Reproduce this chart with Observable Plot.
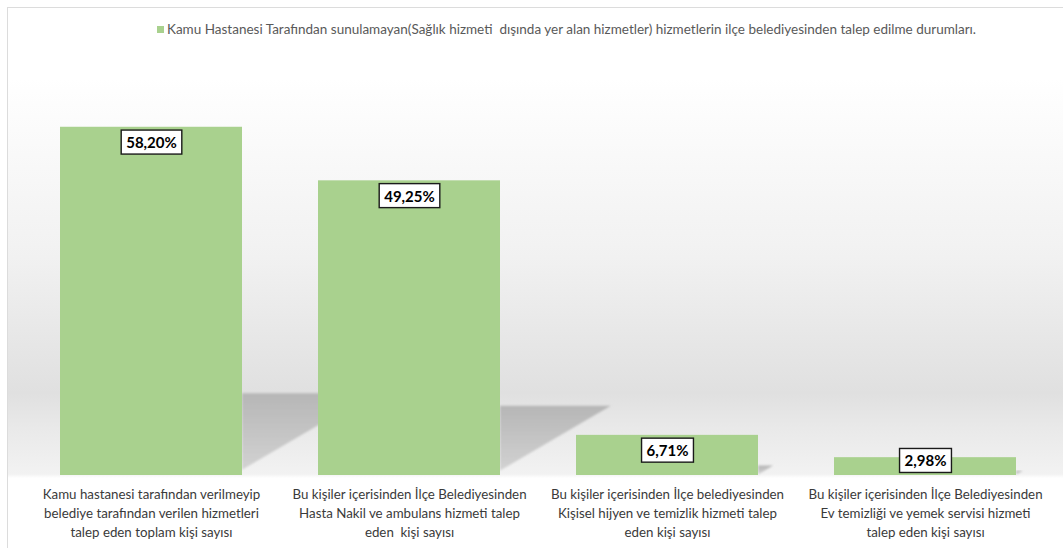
<!DOCTYPE html>
<html>
<head>
<meta charset="utf-8">
<script src="https://cdn.jsdelivr.net/npm/d3@7"></script>
<script src="https://cdn.jsdelivr.net/npm/@observablehq/plot@0.6"></script>
<style>
  body { margin: 0; background: #fff; }
  #chart { position: relative; width: 1063px; height: 548px; overflow: hidden; background: #fff; font-family: Lato, "Open Sans", sans-serif; }
  #box { position: absolute; left: 7px; top: 7px; width: 1070px; height: 560px;
         border-top: 1px solid #dcdcdc; border-left: 1px solid #dcdcdc;
         background: linear-gradient(to bottom, #ffffff 0px, #ffffff 70px, #f1f1f1 250px, #e0e0e0 385px, #e9e9e9 420px, #f2f2f2 466px, #ffffff 470px, #ffffff 100%); }
  #legend { position: absolute; top: 21px; left: 157px; font-size: 13.5px; color: #595959; white-space: pre; }
  #legend .sw { display: inline-block; width: 7px; height: 7px; background: #a9d18e; margin-right: 3px; vertical-align: 1px; }
  #plot { position: absolute; top: 60px; left: 0; }
</style>
</head>
<body>
<div id="chart">
  <div id="box"></div>
  <div id="legend"></div>
  <div id="plot"></div>
</div>
<script>
const seriesName = "Kamu Hastanesi Tarafından sunulamayan(Sağlık hizmeti  dışında yer alan hizmetler) hizmetlerin ilçe belediyesinden talep edilme durumları.";
const categories = [
  "Kamu hastanesi tarafından verilmeyip\nbelediye tarafından verilen hizmetleri\ntalep eden toplam kişi sayısı",
  "Bu kişiler içerisinden İlçe Belediyesinden\nHasta Nakil ve ambulans hizmeti talep\neden  kişi sayısı",
  "Bu kişiler içerisinden İlçe belediyesinden\nKişisel hijyen ve temizlik hizmeti talep\neden kişi sayısı",
  "Bu kişiler içerisinden İlçe Belediyesinden\nEv temizliği ve yemek servisi hizmeti\ntalep eden kişi sayısı"
];
const values = [58.20, 49.25, 6.71, 2.98];
const barColor = "#a9d18e";

const fmt = v => v.toFixed(2).replace(".", ",") + "%";
const idx = values.map((_, i) => i);

document.getElementById("legend").innerHTML = '<span class="sw"></span>' + seriesName;

const plot = Plot.plot({
  width: 1063,
  height: 488,
  marginLeft: 13,
  marginRight: 0,
  marginTop: 56,
  marginBottom: 73,
  style: { background: "transparent", fontFamily: "Lato, 'Open Sans', sans-serif", overflow: "visible" },
  x: { domain: categories, paddingInner: 0.295, paddingOuter: 0.182, label: null },
  y: { domain: [0, 60], axis: null },
  marks: [
    Plot.barY(idx, { x: i => categories[i], y: i => values[i], fill: barColor }),
    Plot.axisX({ tickSize: 0, tickPadding: 10, fontSize: 13.3, lineHeight: 1.43, fill: "#3a3a3a" }),
    Plot.text(idx.filter(i => values[i] > 5), { x: i => categories[i], y: i => values[i], text: i => fmt(values[i]), dy: 16, fontSize: 15, fontWeight: "bold", fill: "#000" }),
    Plot.text(idx.filter(i => values[i] <= 5), { x: i => categories[i], y: i => values[i], text: i => fmt(values[i]), dy: 4, fontSize: 15, fontWeight: "bold", fill: "#000" })
  ]
});

document.getElementById("plot").appendChild(plot);

const svg = d3.select(plot.tagName.toLowerCase() === "svg" ? plot : plot.querySelector("svg"));

// perspective shadows behind the bars, positioned with the plot's own scales
const sx = plot.scale("x"), sy = plot.scale("y");
const bw = sx.bandwidth;
const base = sy.apply(0);
const barGroup = svg.select('g[aria-label="bar"]').node();
const shadowG = d3.select(barGroup.parentNode).insert("g", () => barGroup).attr("aria-label", "shadow");
const defs = shadowG.append("defs");
const lg = defs.append("linearGradient").attr("id", "shGrad").attr("x1", 0).attr("y1", 0).attr("x2", 0).attr("y2", 1);
lg.append("stop").attr("offset", "0%").attr("stop-color", "#b6b6b6");
lg.append("stop").attr("offset", "100%").attr("stop-color", "#d2d2d2");
defs.append("filter").attr("id", "shBlur").attr("x", "-20%").attr("y", "-20%").attr("width", "140%").attr("height", "140%")
  .append("feGaussianBlur").attr("stdDeviation", 1.2);
idx.forEach(i => {
  const xr = sx.apply(categories[i]) + bw;
  const h = base - sy.apply(values[i]);
  const hs = 0.235 * h;
  const ws = 1.6 * hs;
  shadowG.append("polygon")
    .attr("points", `${xr},${base - hs} ${xr + ws},${base - hs} ${xr},${base - 0.015 * h}`)
    .attr("fill", "url(#shGrad)")
    .attr("filter", "url(#shBlur)");
});

// boxes behind value labels
svg.selectAll('g[aria-label="text"] text').each(function () {
  const bb = this.getBBox();
  const r = d3.select(this.parentNode).insert("rect", () => this)
    .attr("x", bb.x - 5).attr("y", bb.y - 3)
    .attr("width", bb.width + 10).attr("height", bb.height + 6)
    .attr("fill", "#fff").attr("stroke", "#1a1a1a").attr("stroke-width", 1.4);
  const t = this.getAttribute("transform");
  if (t) r.attr("transform", t);
});
</script>
</body>
</html>
